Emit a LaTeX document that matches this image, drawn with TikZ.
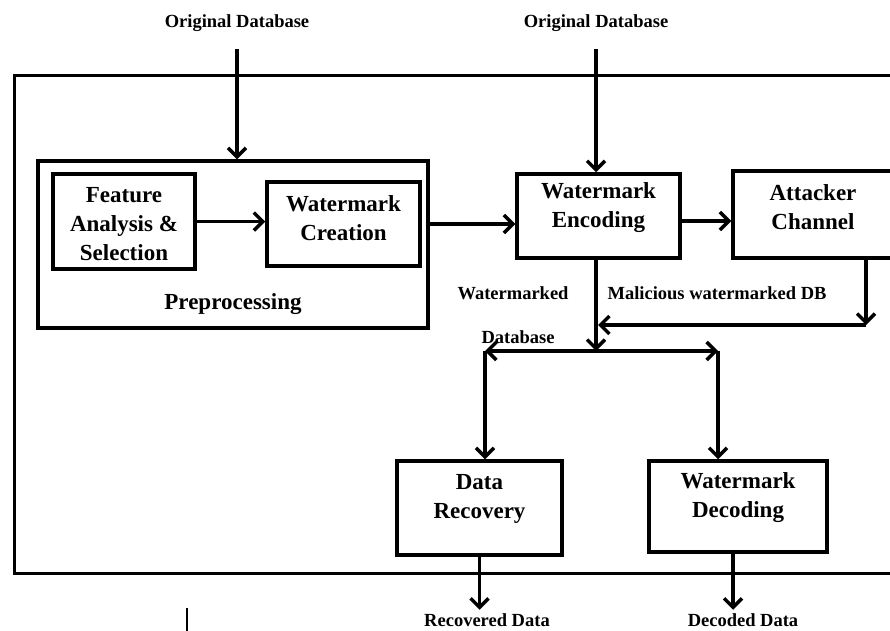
\documentclass[tikz,border=0pt]{standalone}
\usepackage{fontspec}
\setmainfont{Liberation Serif}
\usetikzlibrary{arrows.meta}

\begin{document}
\begin{tikzpicture}[x=1pt, y=-1pt, line width=3.5pt, line join=miter,
  box/.style={draw, line width=3.5pt, inner sep=0pt},
  boxtxt/.style={align=center, inner sep=0pt, font=\bfseries\fontsize{23}{29}\selectfont},
  lbl/.style={inner sep=2pt, font=\bfseries\fontsize{18.5}{22}\selectfont},
  arr/.style={-{Straight Barb[length=9pt,width=18pt]}, line width=3.5pt},
  darr/.style={{Straight Barb[length=9pt,width=18pt]}-{Straight Barb[length=9pt,width=18pt]}, line width=3.5pt}]

  %% ════ outer frame ════
  \draw[line width=3pt] (14,75) rectangle (905,573);

  %% ════ boxes ════
  \node[box, minimum width=390, minimum height=167] (prep) at (233,244.5) {};
  \node[boxtxt] (preplbl) at (233,304) {Preprocessing};
  \node[box, minimum width=142, minimum height=95,
        label={[boxtxt,yshift=-3pt]center:{Feature\\Analysis \&\\Selection}}] (feat) at (124,221.5) {};
  \node[box, minimum width=153, minimum height=84,
        label={[boxtxt,yshift=6pt]center:{Watermark\\Creation}}] (wcre) at (343.5,224) {};
  \node[box, minimum width=163, minimum height=84,
        label={[boxtxt,yshift=8pt]center:{Watermark\\Encoding}}] (wenc) at (598.5,216) {};
  \node[box, minimum width=160, minimum height=87,
        label={[boxtxt,yshift=7pt]center:{Attacker\\Channel}}] (att) at (813,214.5) {};
  \node[box, minimum width=165, minimum height=94,
        label={[boxtxt,yshift=9pt]center:{Data\\Recovery}}] (drec) at (479.5,508) {};
  \node[box, minimum width=178, minimum height=91,
        label={[boxtxt,yshift=9pt]center:{Watermark\\Decoding}}] (wdec) at (738,506.5) {};

  %% ════ labels ════
  \node[lbl] (odb1) at (237,23) {Original Database};
  \node[lbl] (odb2) at (596,23) {Original Database};
  \node[lbl] (wmk) at (513,293) {Watermarked};
  \node[lbl] (dbs) at (518,337) {Database};
  \node[lbl] (mal) at (717,293) {Malicious watermarked DB};
  \node[lbl] (rec) at (487,620) {Recovered Data};
  \node[lbl] (dec) at (743,620) {Decoded Data};

  %% ════ junction points ════
  \coordinate (mdb) at (866,325);
  \coordinate (split) at (596,351);
  \coordinate (bl) at (485,351);
  \coordinate (br) at (718,351);

  %% ════ connectors ════
  \draw[arr, shorten <=14pt] (odb1.south) -- (odb1.south |- prep.north);
  \draw[arr, shorten <=14pt] (odb2.south) -- (odb2.south |- wenc.north);
  \draw[arr] (feat.east) -- (feat.east -| wcre.west);
  \draw[arr] (prep.east |- wcre.east) -- (wcre.east -| wenc.west);
  \draw[arr] ([yshift=-5pt]wenc.east) -- ([yshift=-5pt]wenc.east -| att.west);
  \draw[arr] (att.south -| mdb) -- (mdb);
  \draw[arr, shorten >=2pt] (mdb) -- (mdb -| split);
  \draw[arr] (wenc.south -| split) -- (split);
  \draw[darr] (bl) -- (br);
  \draw[arr] (bl) -- (bl |- drec.north);
  \draw[arr] (br) -- (br |- wdec.north);
  \draw[arr] (drec.south) -- (drec.south |- rec.north);
  \draw[arr] ([xshift=-5pt]wdec.south) -- ([xshift=-5pt]wdec.south |- dec.north);

  %% stray tick below the frame
  \draw[line width=2.5pt] (187,608) -- (187,632);

  \pgfresetboundingbox
  \path[use as bounding box] (0,0) rectangle (890,630);
\end{tikzpicture}
\end{document}
